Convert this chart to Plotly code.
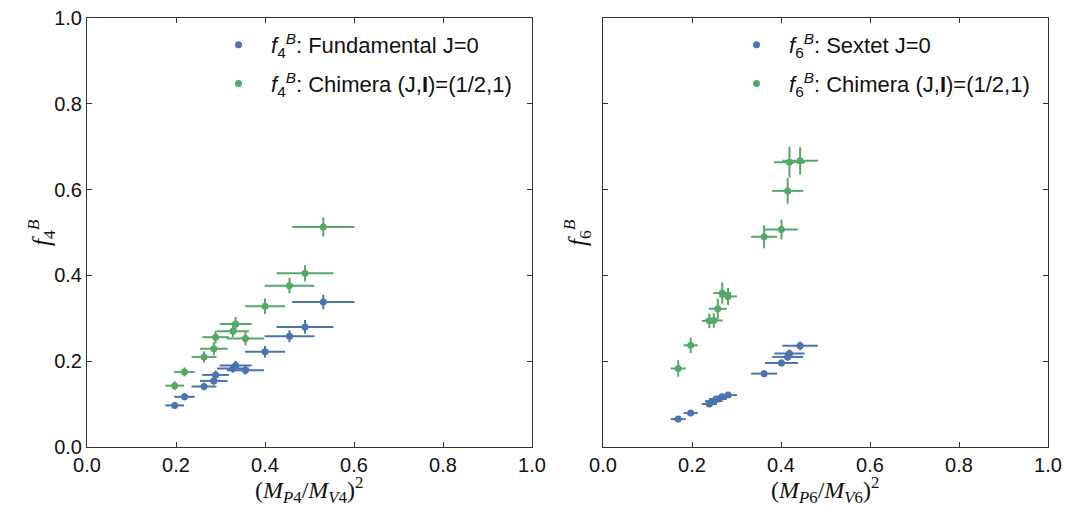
import plotly.graph_objects as go

# ---- Left panel data: f4^B ----
fund_x    = [0.531, 0.490, 0.455, 0.400, 0.334, 0.328, 0.356, 0.289, 0.285, 0.263, 0.219, 0.197]
fund_xerr = [0.070, 0.064, 0.056, 0.045, 0.036, 0.036, 0.042, 0.030, 0.031, 0.028, 0.023, 0.021]
fund_y    = [0.338, 0.280, 0.258, 0.222, 0.190, 0.183, 0.179, 0.168, 0.154, 0.141, 0.117, 0.097]
fund_yerr = [0.017, 0.016, 0.014, 0.0135, 0.011, 0.010, 0.010, 0.010, 0.009, 0.009, 0.008, 0.007]

chim4_x    = [0.531, 0.490, 0.455, 0.400, 0.334, 0.328, 0.356, 0.289, 0.285, 0.263, 0.219, 0.197]
chim4_xerr = [0.070, 0.064, 0.056, 0.045, 0.036, 0.036, 0.042, 0.030, 0.031, 0.028, 0.023, 0.021]
chim4_y    = [0.513, 0.405, 0.376, 0.328, 0.287, 0.270, 0.253, 0.256, 0.229, 0.210, 0.175, 0.143]
chim4_yerr = [0.0225, 0.019, 0.018, 0.018, 0.016, 0.014, 0.016, 0.015, 0.015, 0.013, 0.0105, 0.010]

# ---- Right panel data: f6^B ----
sext_x    = [0.443, 0.419, 0.415, 0.401, 0.362, 0.281, 0.268, 0.258, 0.249, 0.239, 0.197, 0.169]
sext_xerr = [0.040, 0.034, 0.035, 0.037, 0.029, 0.020, 0.020, 0.020, 0.020, 0.017, 0.016, 0.017]
sext_y    = [0.236, 0.218, 0.210, 0.196, 0.171, 0.121, 0.117, 0.112, 0.107, 0.100, 0.079, 0.065]
sext_yerr = [0.010, 0.009, 0.009, 0.008, 0.007, 0.006, 0.006, 0.006, 0.006, 0.005, 0.005, 0.005]

chim6_x    = [0.443, 0.419, 0.415, 0.401, 0.362, 0.268, 0.281, 0.258, 0.249, 0.239, 0.197, 0.169]
chim6_xerr = [0.040, 0.035, 0.035, 0.037, 0.029, 0.020, 0.020, 0.020, 0.020, 0.017, 0.016, 0.017]
chim6_y    = [0.667, 0.664, 0.597, 0.507, 0.490, 0.359, 0.351, 0.322, 0.295, 0.294, 0.237, 0.183]
chim6_yerr = [0.032, 0.036, 0.030, 0.023, 0.027, 0.025, 0.020, 0.024, 0.017, 0.017, 0.018, 0.019]

BLUE = "#4C72B0"
GREEN = "#55A868"
FONT = "Liberation Sans"
SERIF = "Liberation Serif"

def trace(x, xe, y, ye, color, name, xa, ya, legend, group):
    return go.Scatter(
        x=x, y=y, mode="markers", name=name,
        xaxis=xa, yaxis=ya, legend=legend, legendgroup=group,
        marker=dict(color=color, size=7, symbol="circle"),
        error_x=dict(type="data", array=xe, visible=True, color=color, thickness=2, width=0),
        error_y=dict(type="data", array=ye, visible=True, color=color, thickness=2, width=0),
    )

fig = go.Figure()
fig.add_trace(trace(fund_x, fund_xerr, fund_y, fund_yerr, BLUE,
                    "<i>f</i><sub>4</sub><sup><i>B</i></sup>: Fundamental J=0", "x", "y", "legend", "a"))
fig.add_trace(trace(chim4_x, chim4_xerr, chim4_y, chim4_yerr, GREEN,
                    "<i>f</i><sub>4</sub><sup><i>B</i></sup>: Chimera (J,<b>I</b>)=(1/2,1)", "x", "y", "legend", "b"))
fig.add_trace(trace(sext_x, sext_xerr, sext_y, sext_yerr, BLUE,
                    "<i>f</i><sub>6</sub><sup><i>B</i></sup>: Sextet J=0", "x2", "y2", "legend2", "c"))
fig.add_trace(trace(chim6_x, chim6_xerr, chim6_y, chim6_yerr, GREEN,
                    "<i>f</i><sub>6</sub><sup><i>B</i></sup>: Chimera (J,<b>I</b>)=(1/2,1)", "x2", "y2", "legend2", "d"))

W, H = 1070, 506
OFF = 8  # browser body margin

def px(xp):
    return (xp - OFF) / W

def py(yp):
    return 1 - (yp - OFF) / H

ticks = [0, 0.2, 0.4, 0.6, 0.8, 1.0]
ticktext = ["0.0", "0.2", "0.4", "0.6", "0.8", "1.0"]

axis_common = dict(
    range=[0, 1], tickvals=ticks, ticktext=ticktext, ticks="inside", ticklen=5,
    tickwidth=1, tickcolor="#333", showline=True, linecolor="#333", linewidth=1,
    mirror="ticks", showgrid=False, zeroline=False, automargin=False,
    ticklabeloverflow="allow",
    tickfont=dict(family=FONT, size=20, color="#111"),
)

titles = [
    dict(text="(<i>M</i><sub><i>P</i>4</sub>/<i>M</i><sub><i>V</i>4</sub>)<sup>2</sup>",
         x=px(309), y=py(490), textangle=0, size=24),
    dict(text="(<i>M</i><sub><i>P</i>6</sub>/<i>M</i><sub><i>V</i>6</sub>)<sup>2</sup>",
         x=px(825), y=py(490), textangle=0, size=24),
    dict(text="<i>f</i><sub>4</sub><sup><i>B</i></sup>", x=px(41), y=py(233), textangle=-90, size=25),
    dict(text="<i>f</i><sub>6</sub><sup><i>B</i></sup>", x=px(577), y=py(233), textangle=-90, size=25),
]
annotations = [
    dict(text=t["text"], x=t["x"], y=t["y"], xref="paper", yref="paper",
         xanchor="center", yanchor="middle", textangle=t["textangle"], showarrow=False,
         font=dict(family=SERIF, size=t["size"], color="#111"))
    for t in titles
]

fig.update_layout(
    width=W, height=H,
    margin=dict(l=0, r=0, t=0, b=0),
    paper_bgcolor="white", plot_bgcolor="white",
    font=dict(family=FONT, size=20, color="#111"),
    xaxis=dict(domain=[px(87), px(532)], anchor="y", **axis_common),
    yaxis=dict(domain=[py(447), py(18)], anchor="x", **axis_common),
    xaxis2=dict(domain=[px(603), px(1048)], anchor="y2", **axis_common),
    yaxis2=dict(domain=[py(447), py(18)], anchor="x2", showticklabels=False, **axis_common),
    legend=dict(x=px(206), y=py(24), xanchor="left", yanchor="top",
                bgcolor="rgba(0,0,0,0)", borderwidth=0, itemwidth=55,
                font=dict(family=FONT, size=22), tracegroupgap=7),
    legend2=dict(x=px(724), y=py(24), xanchor="left", yanchor="top",
                 bgcolor="rgba(0,0,0,0)", borderwidth=0, itemwidth=55,
                 font=dict(family=FONT, size=22), tracegroupgap=7),
    annotations=annotations,
    showlegend=True,
)

fig.write_html("out.html")
